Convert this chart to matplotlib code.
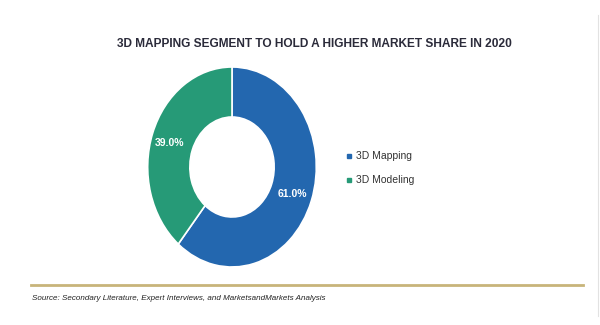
import matplotlib
matplotlib.use("Agg")
import matplotlib.pyplot as plt

categories = ["3D Mapping", "3D Modeling"]
shares = [61.0, 39.0]
colors = ["#2367AF", "#269A77"]

fig = plt.figure(figsize=(6, 3.25), dpi=100)
W, H = 600, 325

def fx(x):
    return x / W

def fy(y):
    return 1 - y / H

ax = fig.add_axes([fx(146), fy(269), (318 - 146) / W, (269 - 65) / H])
wedges, _ = ax.pie(shares, colors=colors, startangle=90, counterclock=False,
                   wedgeprops=dict(width=0.5, edgecolor="white", linewidth=1.2))
ax.set_aspect("auto")
ax.set_xlim(-1.02, 1.02)
ax.set_ylim(-1.02, 1.02)

# percentage labels
fig.text(fx(170), fy(143), f"{shares[1]:.1f}%", color="white", fontsize=7.5,
         fontweight="bold", ha="center", va="center", family="Liberation Sans")
fig.text(fx(292), fy(194), f"{shares[0]:.1f}%", color="white", fontsize=7.5,
         fontweight="bold", ha="center", va="center", family="Liberation Sans")

# title
fig.text(fx(314), fy(44), "3D MAPPING SEGMENT TO HOLD A HIGHER MARKET SHARE IN 2020",
         fontsize=8.6, fontweight="bold", color="#2B2B3A", ha="center", va="center",
         family="Liberation Sans")

# legend
for i, (cat, col) in enumerate(zip(categories, colors)):
    yy = 156 + i * 24
    fig.patches.append(plt.Rectangle((fx(347), fy(yy + 2)), 4 / W, 4 / H,
                                     transform=fig.transFigure, color=col))
    fig.text(fx(356), fy(yy), cat, fontsize=7.5, color="#333333", ha="left",
             va="center", family="Liberation Sans")

# gold line
fig.add_artist(plt.Line2D([fx(31), fx(583)], [fy(285), fy(285)], color="#C8B47A",
                          linewidth=2, transform=fig.transFigure))
# right gray border
fig.add_artist(plt.Line2D([fx(597.5), fx(597.5)], [fy(15), fy(316)], color="#E2E2E2",
                          linewidth=0.8, transform=fig.transFigure))

fig.text(fx(32), fy(298), "Source: Secondary Literature, Expert Interviews, and MarketsandMarkets Analysis",
         fontsize=5.8, style="italic", color="#222222", ha="left", va="center",
         family="Liberation Sans")

fig.savefig("out.png", dpi=100, facecolor="white")
